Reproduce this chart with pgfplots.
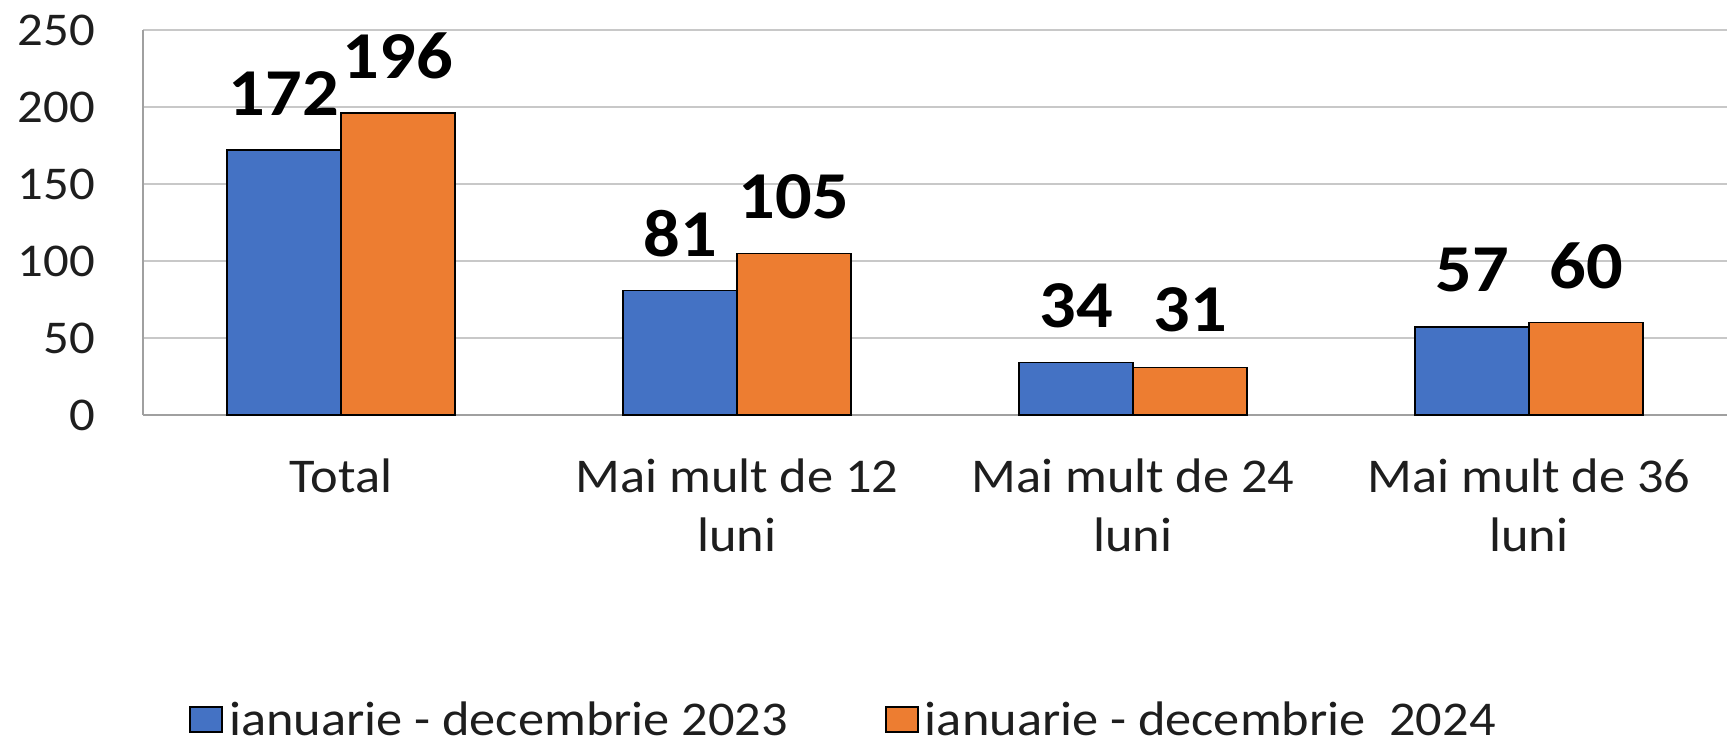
\documentclass[border=0pt]{standalone}
\usepackage{fontspec}
\setmainfont{Carlito}[FakeStretch=1.08]
\usepackage{pgfplots}
\pgfplotsset{compat=1.18}
\definecolor{barblue}{HTML}{4472C4}
\definecolor{barorange}{HTML}{ED7D31}
\definecolor{gridgray}{HTML}{C8C8C8}
\definecolor{axisgray}{HTML}{A0A0A0}
\definecolor{textdark}{HTML}{1E1E1E}

\pgfplotsset{legbox/.style={legend image code/.code={%
  \draw[##1, line width=2pt] (0pt,-12.5pt) rectangle (32pt,12.5pt);}}}

\begin{document}
\begin{tikzpicture}[x=1pt,y=1pt]
\begin{axis}[
    at={(143pt,335pt)}, anchor=south west,
    scale only axis, width=1584pt, height=385pt,
    ybar=0pt, bar width=114pt,
    xmin=-0.5, xmax=3.5, ymin=0, ymax=250,
    xtick={0,1,2,3},
    xticklabels={Total, Mai mult de 12\\luni, Mai mult de 24\\luni, Mai mult de 36\\luni},
    ytick={0,50,...,250},
    major tick length=0pt,
    axis lines=left,
    axis line style={-, draw=axisgray, line width=2pt},
    ymajorgrids, grid style={gridgray, line width=2pt},
    /pgf/number format/assume math mode=true,
    xticklabel style={font=\fontsize{48.5}{59}\selectfont, text=textdark, align=center, anchor=north, inner sep=0pt, yshift=-44pt},
    yticklabel style={font=\fontsize{47}{56}\selectfont, text=textdark, anchor=east, inner sep=0pt, xshift=-48pt},
    nodes near coords,
    every node near coord/.append style={font=\fontsize{67}{74}\selectfont\bfseries, text=black, anchor=center, inner sep=0pt, yshift=57pt},
    legend columns=2,
    legend cell align=left,
    legend style={at={(0.029,-0.79)}, anchor=west, draw=none, fill=none, inner sep=0pt,
        font=\fontsize{48.5}{56}\selectfont, text=textdark,
        /tikz/every odd column/.append style={column sep=4pt},
        /tikz/every even column/.append style={column sep=95pt}},
]
\addplot[fill=barblue, draw=black, line width=1.5pt, legbox] coordinates {(0,172) (1,81) (2,34) (3,57)};
\addlegendentry{ianuarie - decembrie 2023}
\addplot[fill=barorange, draw=black, line width=1.5pt, legbox] coordinates {(0,196) (1,105) (2,31) (3,60)};
\addlegendentry{ianuarie - decembrie\ \ 2024}
\end{axis}
\pgfresetboundingbox
\useasboundingbox (0,0) rectangle (1727,750);
\end{tikzpicture}
\end{document}
